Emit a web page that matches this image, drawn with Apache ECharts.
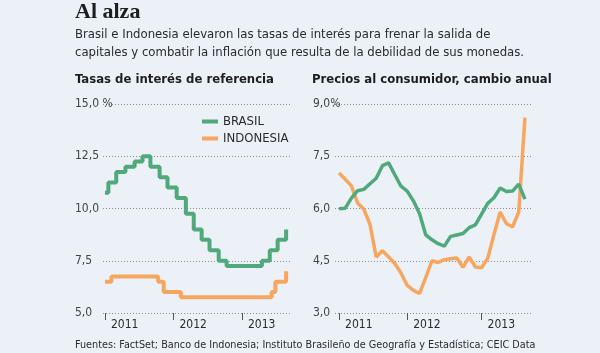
<!DOCTYPE html>
<html>
<head>
<meta charset="utf-8">
<script src="https://cdn.jsdelivr.net/npm/echarts@6/dist/echarts.min.js"></script>
<style>
  html, body { margin: 0; padding: 0; background: #ecf0f7; }
  #chart { width: 600px; height: 353px; }
</style>
</head>
<body>
<div id="chart"></div>
<script>
// tasas de referencia: [fecha del cambio, nueva tasa]
const selicBrasil = [
  ['2011-01-01', 10.75], ['2011-01-19', 11.25], ['2011-03-02', 11.75], ['2011-04-20', 12.0],
  ['2011-06-08', 12.25], ['2011-07-20', 12.5], ['2011-08-31', 12.0], ['2011-10-19', 11.5],
  ['2011-11-30', 11.0], ['2012-01-18', 10.5], ['2012-03-07', 9.75], ['2012-04-18', 9.0],
  ['2012-05-30', 8.5], ['2012-07-11', 8.0], ['2012-08-29', 7.5], ['2012-10-10', 7.25],
  ['2013-04-17', 7.5], ['2013-05-29', 8.0], ['2013-07-10', 8.5], ['2013-08-24', 9.0]
]
const biIndonesia = [
  ['2011-01-01', 6.5], ['2011-02-04', 6.75], ['2011-10-11', 6.5], ['2011-11-10', 6.0],
  ['2012-02-09', 5.75], ['2013-06-08', 6.0], ['2013-06-28', 6.5], ['2013-08-24', 7.0]
]
const rateYears = [2011, 2012, 2013]

// precios al consumidor, mensual ene 2011 - jul 2013
const meses = [
  '2011-01', '2011-02', '2011-03', '2011-04', '2011-05', '2011-06', '2011-07', '2011-08',
  '2011-09', '2011-10', '2011-11', '2011-12', '2012-01', '2012-02', '2012-03', '2012-04',
  '2012-05', '2012-06', '2012-07', '2012-08', '2012-09', '2012-10', '2012-11', '2012-12',
  '2013-01', '2013-02', '2013-03', '2013-04', '2013-05', '2013-06', '2013-07'
]
const ipcBrasil = [
  5.99, 6.01, 6.30, 6.51, 6.55, 6.71, 6.87, 7.23, 7.31, 6.97, 6.64, 6.50,
  6.22, 5.85, 5.24, 5.10, 4.99, 4.92, 5.20, 5.24, 5.28, 5.45, 5.53, 5.84,
  6.15, 6.31, 6.59, 6.49, 6.50, 6.70, 6.27
]
const ipcIndonesia = [
  7.02, 6.84, 6.65, 6.16, 5.98, 5.54, 4.61, 4.79, 4.61, 4.42, 4.15, 3.79,
  3.65, 3.56, 4.02, 4.50, 4.45, 4.53, 4.56, 4.58, 4.31, 4.61, 4.32, 4.30,
  4.57, 5.25, 5.90, 5.57, 5.47, 5.90, 8.61
]
// marcas de año en el gráfico derecho (índice de mes donde está la marca)
const ipcTicks = [0, 11, 23]
const ipcTickLabels = ['2011', '2012', '2013']

const VERDE = '#50a97b'
const NARANJA = '#f6a65f'
const TEXTO = '#2b2b2b'
const NARROW = "'DejaVu Sans Condensed', 'DejaVu Sans', sans-serif"

const toYear = (s) => {
  const d = new Date(s + 'T00:00:00Z')
  const start = Date.UTC(d.getUTCFullYear(), 0, 1)
  return d.getUTCFullYear() + (d - start) / (365 * 86400000)
}

const fmtNum = (v) => v.toFixed(1).replace('.', ',')

const yAxisBase = (labelMargin, topLabel, max) => ({
  type: 'value',
  axisLine: { show: false },
  axisTick: { show: false },
  axisLabel: {
    margin: labelMargin,
    align: 'left',
    color: '#444',
    fontSize: 12,
    fontFamily: NARROW,
    formatter: (v) => (v === max ? topLabel : fmtNum(v))
  },
  splitLine: { lineStyle: { color: '#8a8d93', type: [1, 2], width: 1 } }
})

const xAxisBase = (ticks, fmt) => ({
  type: 'value',
  axisLine: { show: false },
  splitLine: { show: false },
  axisTick: {
    show: true,
    customValues: ticks,
    length: 7,
    lineStyle: { color: '#555', width: 1 }
  },
  axisLabel: {
    customValues: ticks,
    formatter: fmt,
    align: 'left',
    padding: [0, 0, 0, 6],
    margin: 6,
    color: TEXTO,
    fontSize: 12,
    fontFamily: NARROW
  }
})

const chart = echarts.init(document.getElementById('chart'))

const option = {
  backgroundColor: '#ecf0f7',
  animation: false,
  title: [
    {
      text: 'Al alza', left: 75, top: 1, padding: 0,
      textStyle: { fontFamily: "'Liberation Serif', serif", fontWeight: 'bold', fontSize: 22, color: '#1e1e1e' }
    },
    {
      text: 'Brasil e Indonesia elevaron las tasas de interés para frenar la salida de\ncapitales y combatir la inflación que resulta de la debilidad de sus monedas.',
      left: 75, top: 26, padding: 0,
      textStyle: { fontFamily: NARROW, fontWeight: 'normal', fontSize: 13, lineHeight: 18, color: TEXTO }
    },
    {
      text: 'Tasas de interés de referencia', left: 75, top: 73, padding: 0,
      textStyle: { fontFamily: NARROW, fontWeight: 'bold', fontSize: 13, color: '#1e1e1e' }
    },
    {
      text: 'Precios al consumidor, cambio anual', left: 312, top: 73, padding: 0,
      textStyle: { fontFamily: NARROW, fontWeight: 'bold', fontSize: 13, color: '#1e1e1e' }
    },
    {
      text: 'Fuentes: FactSet; Banco de Indonesia; Instituto Brasileño de Geografía y Estadística; CEIC Data',
      left: 75, top: 340, padding: 0,
      textStyle: { fontFamily: NARROW, fontWeight: 'normal', fontSize: 10.75, color: TEXTO }
    }
  ],
  legend: {
    data: ['BRASIL', 'INDONESIA'],
    orient: 'vertical',
    left: 202,
    top: 113,
    padding: 0,
    itemGap: 0,
    itemWidth: 16,
    itemHeight: 4,
    icon: 'rect',
    textStyle: { fontFamily: NARROW, fontSize: 13, color: TEXTO, lineHeight: 17 }
  },
  grid: [
    { left: 103, top: 104, width: 189, height: 209 },
    { left: 335, top: 104, width: 198, height: 209 }
  ],
  xAxis: [
    Object.assign(xAxisBase(rateYears, (v) => String(Math.round(v))), {
      gridIndex: 0, min: 2010.971, max: 2013.73
    }),
    Object.assign(xAxisBase(ipcTicks, (v) => ipcTickLabels[ipcTicks.indexOf(Math.round(v))] || ''), {
      gridIndex: 1, min: -0.65, max: 31.3
    })
  ],
  yAxis: [
    Object.assign(yAxisBase(28, '15,0 %', 15), { gridIndex: 0, min: 5, max: 15, interval: 2.5 }),
    Object.assign(yAxisBase(22, '9,0%', 9), { gridIndex: 1, min: 3, max: 9, interval: 1.5 })
  ],
  series: [
    {
      name: 'BRASIL', type: 'line', step: 'end', xAxisIndex: 0, yAxisIndex: 0,
      showSymbol: false, color: VERDE, lineStyle: { width: 4, color: VERDE },
      data: selicBrasil.map(([d, v]) => [toYear(d), v])
    },
    {
      name: 'INDONESIA', type: 'line', step: 'end', xAxisIndex: 0, yAxisIndex: 0,
      showSymbol: false, color: NARANJA, lineStyle: { width: 4, color: NARANJA },
      data: biIndonesia.map(([d, v]) => [toYear(d), v])
    },
    {
      name: 'INDONESIA', type: 'line', xAxisIndex: 1, yAxisIndex: 1,
      showSymbol: false, color: NARANJA, lineStyle: { width: 3.5, color: NARANJA },
      data: meses.map((m, i) => [i, ipcIndonesia[i]])
    },
    {
      name: 'BRASIL', type: 'line', xAxisIndex: 1, yAxisIndex: 1,
      showSymbol: false, color: VERDE, lineStyle: { width: 3.5, color: VERDE },
      data: meses.map((m, i) => [i, ipcBrasil[i]])
    }
  ]
}

chart.setOption(option)
</script>
</body>
</html>
